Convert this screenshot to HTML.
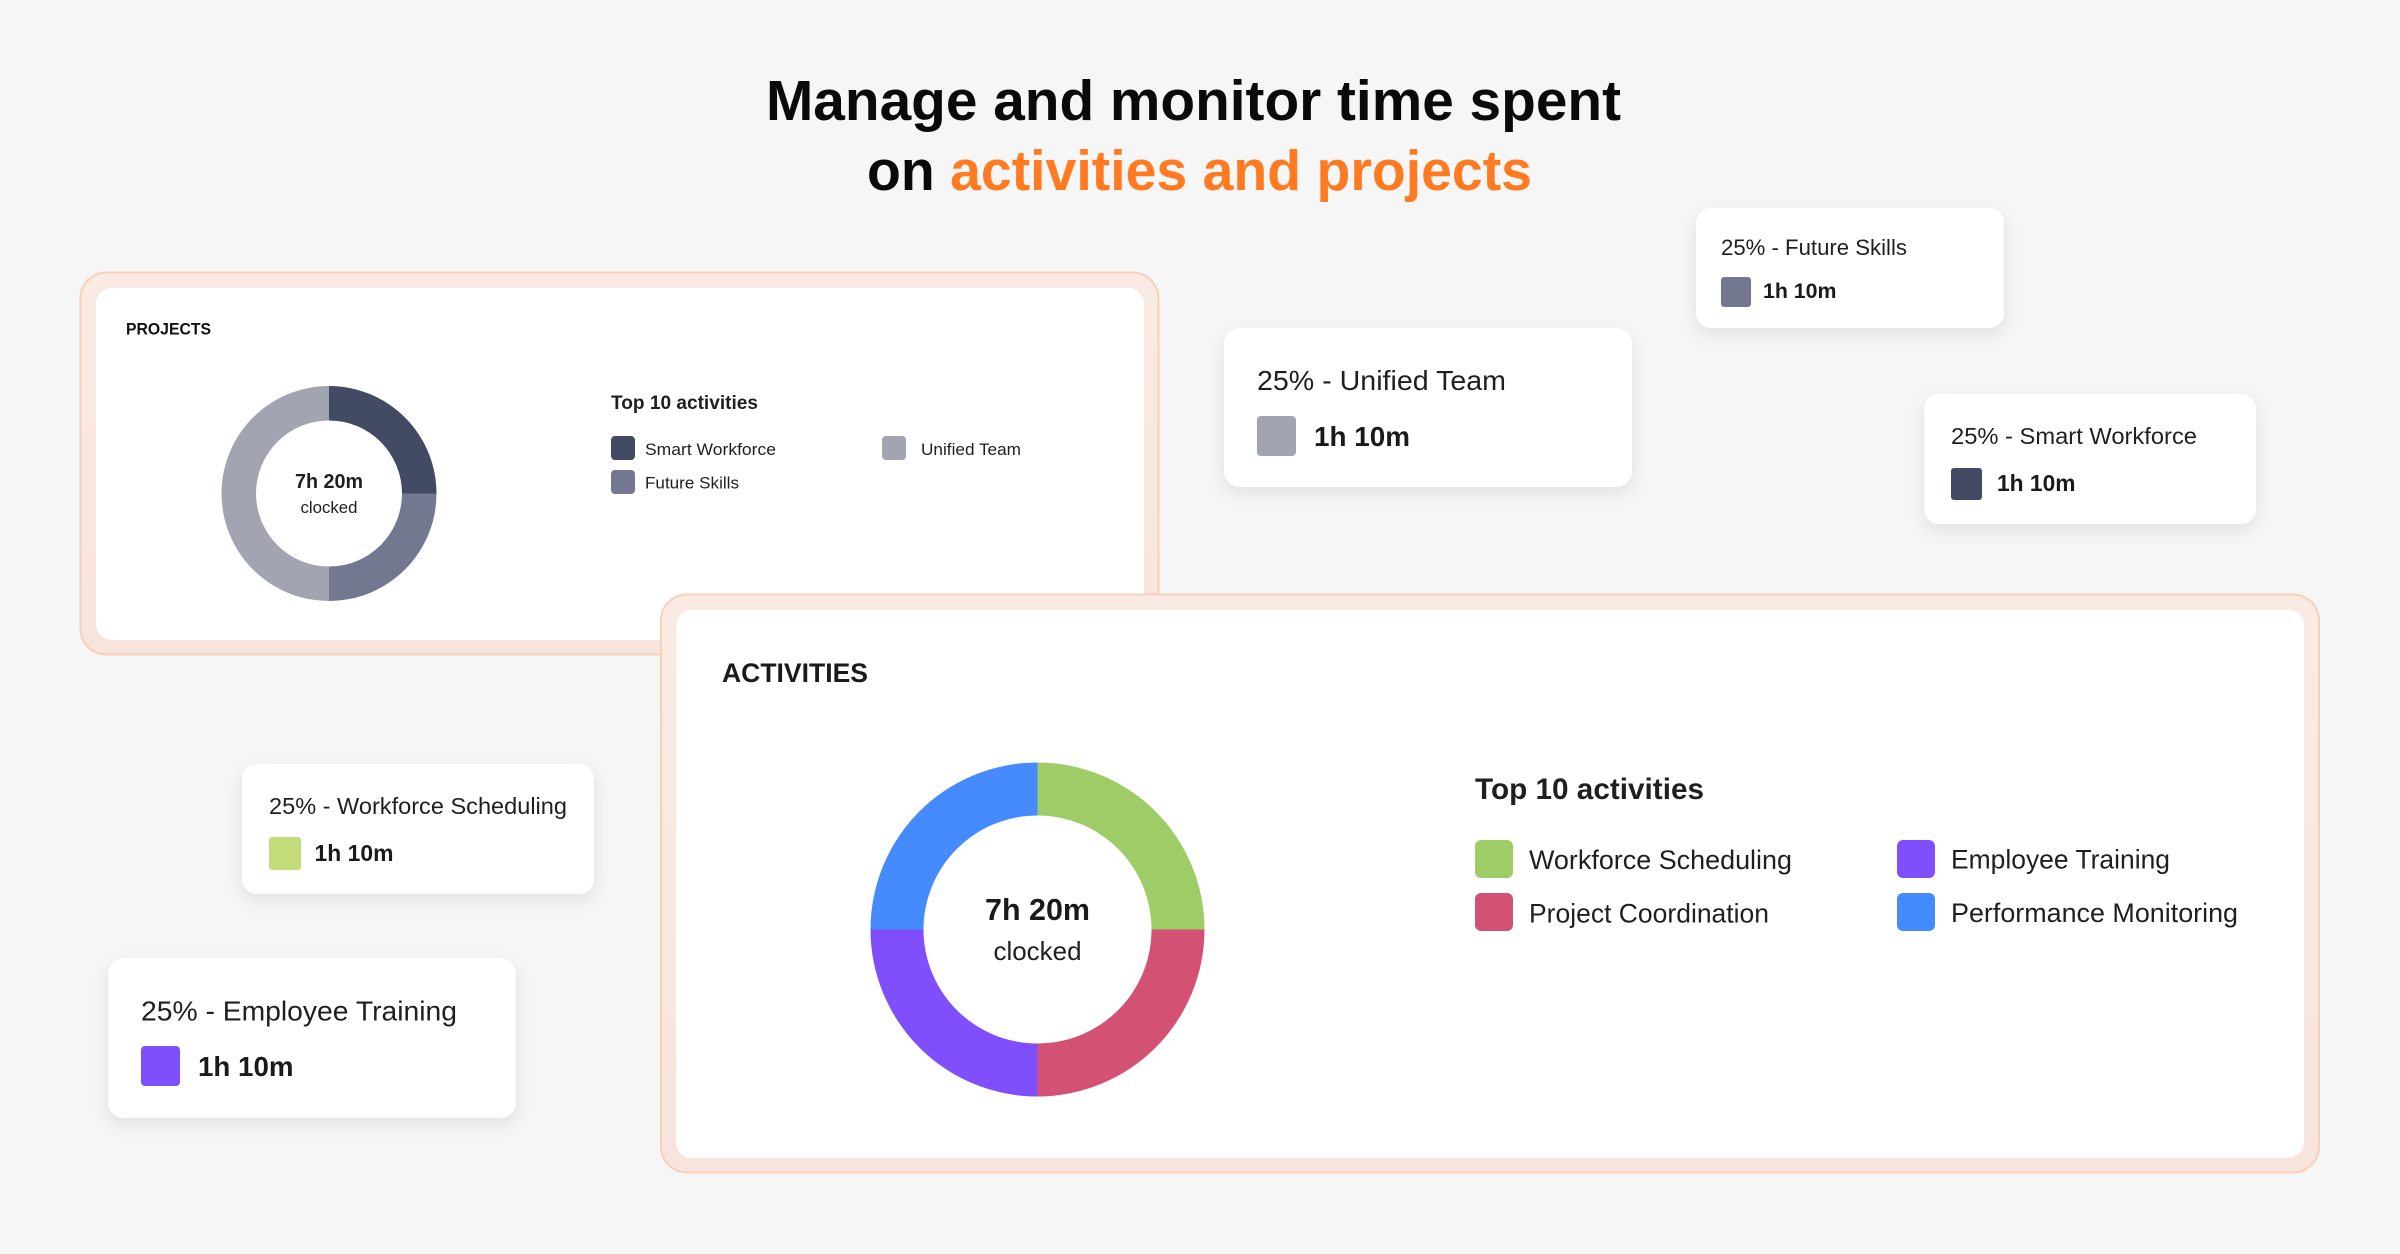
<!DOCTYPE html>
<html>
<head>
<meta charset="utf-8">
<style>
  html,body{margin:0;padding:0;background:#f6f6f6;}
  body{width:2400px;height:1254px;overflow:hidden;}
  svg{display:block;}
  text{font-family:"Liberation Sans",sans-serif;}
</style>
</head>
<body>
<svg width="2400" height="1254" viewBox="0 0 2400 1254" xmlns="http://www.w3.org/2000/svg">
  <defs>
    <filter id="sh" x="-20%" y="-30%" width="140%" height="170%">
      <feDropShadow dx="0" dy="6" stdDeviation="8" flood-color="#000" flood-opacity="0.09"/>
    </filter>
    <linearGradient id="pg" x1="0" y1="0" x2="0" y2="1">
      <stop offset="0" stop-color="#f9ebe3"/>
      <stop offset="1" stop-color="#f7e5dd"/>
    </linearGradient>
  </defs>

  <rect width="2400" height="1254" fill="#f6f6f6"/>

  <!-- Title -->
  <text x="766" y="120" font-size="57" font-weight="700" fill="#0a0a0a" textLength="855" lengthAdjust="spacingAndGlyphs">Manage and monitor time spent</text>
  <text x="867" y="190" font-size="57" font-weight="700" fill="#0a0a0a" textLength="665" lengthAdjust="spacingAndGlyphs">on <tspan fill="#ff7a21">activities and projects</tspan></text>

  <!-- Projects card -->
  <rect x="80.5" y="272.5" width="1078" height="382" rx="26" fill="url(#pg)" stroke="#f9cfb7" stroke-width="2"/>
  <rect x="96" y="288" width="1048" height="352" rx="16" fill="#ffffff"/>
  <text x="126" y="334.7" font-size="17" font-weight="700" fill="#111" textLength="85" lengthAdjust="spacingAndGlyphs">PROJECTS</text>

  <path d="M329,386 A107.5,107.5 0 0 1 436.5,493.5 L402,493.5 A73,73 0 0 0 329,420.5 Z" fill="#434a63"/>
  <path d="M436.5,493.5 A107.5,107.5 0 0 1 329,601 L329,566.5 A73,73 0 0 0 402,493.5 Z" fill="#737890"/>
  <path d="M329,601 A107.5,107.5 0 0 1 329,386 L329,420.5 A73,73 0 0 0 329,566.5 Z" fill="#a2a5b1"/>
  <text x="329" y="488" font-size="20" font-weight="700" fill="#1f1f1f" text-anchor="middle" textLength="68" lengthAdjust="spacingAndGlyphs">7h 20m</text>
  <text x="329" y="513" font-size="17" fill="#1f1f1f" text-anchor="middle" textLength="57" lengthAdjust="spacingAndGlyphs">clocked</text>

  <text x="611" y="409" font-size="19" font-weight="700" fill="#1f1f1f" textLength="147" lengthAdjust="spacingAndGlyphs">Top 10 activities</text>
  <rect x="611" y="436" width="24" height="24" rx="4" fill="#434a63"/>
  <text x="645" y="455" font-size="17" fill="#1f1f1f" textLength="131" lengthAdjust="spacingAndGlyphs">Smart Workforce</text>
  <rect x="611" y="470" width="24" height="24" rx="4" fill="#737890"/>
  <text x="645" y="488.5" font-size="17" fill="#1f1f1f" textLength="94" lengthAdjust="spacingAndGlyphs">Future Skills</text>
  <rect x="882" y="436" width="24" height="24" rx="4" fill="#a2a5b1"/>
  <text x="921" y="455" font-size="17" fill="#1f1f1f" textLength="100" lengthAdjust="spacingAndGlyphs">Unified Team</text>

  <!-- Activities card -->
  <rect x="661" y="594.5" width="1658" height="578" rx="26" fill="url(#pg)" stroke="#f9cfb7" stroke-width="2"/>
  <rect x="676" y="610" width="1628" height="548" rx="16" fill="#ffffff"/>
  <text x="722" y="682" font-size="26.5" font-weight="700" fill="#1a1a1a" textLength="146" lengthAdjust="spacingAndGlyphs">ACTIVITIES</text>

  <path d="M1037.5,762.5 A167,167 0 0 1 1204.5,929.5 L1151.5,929.5 A114,114 0 0 0 1037.5,815.5 Z" fill="#9ecd67"/>
  <path d="M1204.5,929.5 A167,167 0 0 1 1037.5,1096.5 L1037.5,1043.5 A114,114 0 0 0 1151.5,929.5 Z" fill="#d45176"/>
  <path d="M1037.5,1096.5 A167,167 0 0 1 870.5,929.5 L923.5,929.5 A114,114 0 0 0 1037.5,1043.5 Z" fill="#7f4ffe"/>
  <path d="M870.5,929.5 A167,167 0 0 1 1037.5,762.5 L1037.5,815.5 A114,114 0 0 0 923.5,929.5 Z" fill="#458bfe"/>
  <text x="1037.5" y="920" font-size="30.5" font-weight="700" fill="#1a1a1a" text-anchor="middle" textLength="105" lengthAdjust="spacingAndGlyphs">7h 20m</text>
  <text x="1037.5" y="960" font-size="26" fill="#1f1f1f" text-anchor="middle" textLength="88" lengthAdjust="spacingAndGlyphs">clocked</text>

  <text x="1475" y="799" font-size="29.5" font-weight="700" fill="#1f1f1f" textLength="229" lengthAdjust="spacingAndGlyphs">Top 10 activities</text>
  <rect x="1475" y="840" width="38" height="38" rx="6" fill="#9ecd67"/>
  <text x="1529" y="869" font-size="26.5" fill="#1f1f1f" textLength="263" lengthAdjust="spacingAndGlyphs">Workforce Scheduling</text>
  <rect x="1475" y="893" width="38" height="38" rx="6" fill="#d45176"/>
  <text x="1529" y="922.5" font-size="26.5" fill="#1f1f1f" textLength="240" lengthAdjust="spacingAndGlyphs">Project Coordination</text>
  <rect x="1897" y="840" width="38" height="38" rx="6" fill="#7f4ffe"/>
  <text x="1951" y="868.5" font-size="26.5" fill="#1f1f1f" textLength="219" lengthAdjust="spacingAndGlyphs">Employee Training</text>
  <rect x="1897" y="893" width="38" height="38" rx="6" fill="#458bfe"/>
  <text x="1951" y="922" font-size="26.5" fill="#1f1f1f" textLength="287" lengthAdjust="spacingAndGlyphs">Performance Monitoring</text>

  <!-- Floating cards -->
  <g filter="url(#sh)">
    <rect x="1696" y="208" width="308" height="120" rx="15" fill="#fff"/>
    <rect x="1224" y="328" width="408" height="159" rx="16" fill="#fff"/>
    <rect x="1924" y="394" width="332" height="130" rx="15" fill="#fff"/>
    <rect x="242" y="764" width="352" height="130" rx="15" fill="#fff"/>
    <rect x="108" y="958" width="408" height="160" rx="16" fill="#fff"/>
  </g>

  <!-- Future Skills -->
  <text x="1721" y="255" font-size="22" fill="#1f1f1f" textLength="186" lengthAdjust="spacingAndGlyphs">25% - Future Skills</text>
  <rect x="1721" y="277" width="30" height="30" rx="3" fill="#737890"/>
  <text x="1763" y="298" font-size="21.5" font-weight="700" fill="#1a1a1a" textLength="73.5" lengthAdjust="spacingAndGlyphs">1h 10m</text>

  <!-- Unified Team -->
  <text x="1257" y="390" font-size="28" fill="#1f1f1f" textLength="249" lengthAdjust="spacingAndGlyphs">25% - Unified Team</text>
  <rect x="1257" y="416" width="39" height="40" rx="4" fill="#a2a5b1"/>
  <text x="1314" y="446" font-size="28" font-weight="700" fill="#1a1a1a" textLength="96" lengthAdjust="spacingAndGlyphs">1h 10m</text>

  <!-- Smart Workforce -->
  <text x="1951" y="444" font-size="23.5" fill="#1f1f1f" textLength="246" lengthAdjust="spacingAndGlyphs">25% - Smart Workforce</text>
  <rect x="1951" y="468" width="31" height="32" rx="3" fill="#434a63"/>
  <text x="1997" y="491" font-size="23" font-weight="700" fill="#1a1a1a" textLength="78.5" lengthAdjust="spacingAndGlyphs">1h 10m</text>

  <!-- Workforce Scheduling -->
  <text x="269" y="814" font-size="23.5" fill="#1f1f1f" textLength="298" lengthAdjust="spacingAndGlyphs">25% - Workforce Scheduling</text>
  <rect x="269" y="837" width="32" height="33" rx="3" fill="#c4db7a"/>
  <text x="314.5" y="861" font-size="23" font-weight="700" fill="#1a1a1a" textLength="79" lengthAdjust="spacingAndGlyphs">1h 10m</text>

  <!-- Employee Training -->
  <text x="141" y="1020.5" font-size="28" fill="#1f1f1f" textLength="316" lengthAdjust="spacingAndGlyphs">25% - Employee Training</text>
  <rect x="141" y="1046" width="39" height="40" rx="4" fill="#7f4ffe"/>
  <text x="198" y="1076" font-size="28" font-weight="700" fill="#1a1a1a" textLength="95.5" lengthAdjust="spacingAndGlyphs">1h 10m</text>
</svg>
</body>
</html>
